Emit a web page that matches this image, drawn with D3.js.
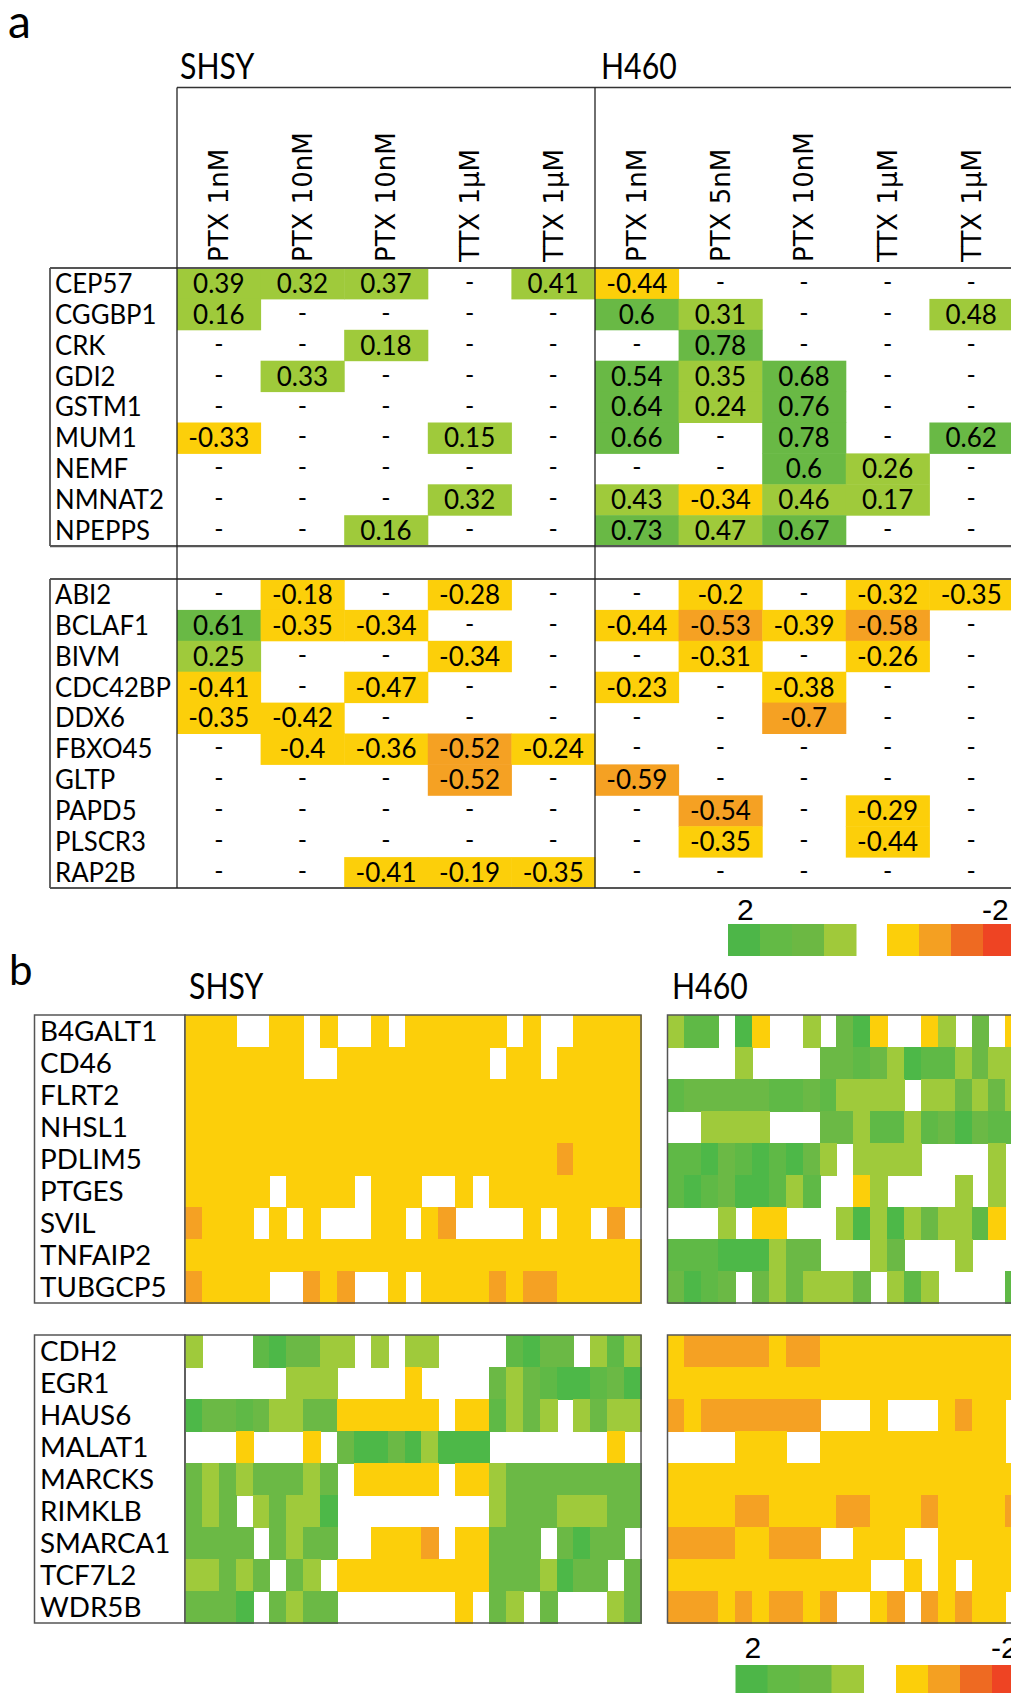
<!DOCTYPE html>
<html>
<head>
<meta charset="utf-8">
<script src="https://cdn.jsdelivr.net/npm/d3@7"></script>
<style>
  body { margin: 0; background: #fff; }
  svg { display: block; }
</style>
</head>
<body>
<svg id="fig" width="1011" height="1693"></svg>
<script>
// ── Panel a: correlation table ──
const shsyCols = ['PTX 1nM', 'PTX 10nM', 'PTX 10nM', 'TTX 1µM', 'TTX 1µM'];
const h460Cols = ['PTX 1nM', 'PTX 5nM', 'PTX 10nM', 'TTX 1µM', 'TTX 1µM'];

const genesUpA = ['CEP57', 'CGGBP1', 'CRK', 'GDI2', 'GSTM1', 'MUM1', 'NEMF', 'NMNAT2', 'NPEPPS'];
const genesDownA = ['ABI2', 'BCLAF1', 'BIVM', 'CDC42BP', 'DDX6', 'FBXO45', 'GLTP', 'PAPD5', 'PLSCR3', 'RAP2B'];

// null = "-" (not significant); first 5 SHSY, last 5 H460
const valsUpA = [
  [0.39, 0.32, 0.37, null, 0.41,   -0.44, null, null, null, null],
  [0.16, null, null, null, null,   0.6, 0.31, null, null, 0.48],
  [null, null, 0.18, null, null,   null, 0.78, null, null, null],
  [null, 0.33, null, null, null,   0.54, 0.35, 0.68, null, null],
  [null, null, null, null, null,   0.64, 0.24, 0.76, null, null],
  [-0.33, null, null, 0.15, null,  0.66, null, 0.78, null, 0.62],
  [null, null, null, null, null,   null, null, 0.6, 0.26, null],
  [null, null, null, 0.32, null,   0.43, -0.34, 0.46, 0.17, null],
  [null, null, 0.16, null, null,   0.73, 0.47, 0.67, null, null],
];
const valsDownA = [
  [null, -0.18, null, -0.28, null,     null, -0.2, null, -0.32, -0.35],
  [0.61, -0.35, -0.34, null, null,     -0.44, -0.53, -0.39, -0.58, null],
  [0.25, null, null, -0.34, null,      null, -0.31, null, -0.26, null],
  [-0.41, null, -0.47, null, null,     -0.23, null, -0.38, null, null],
  [-0.35, -0.42, null, null, null,     null, null, -0.7, null, null],
  [null, -0.4, -0.36, -0.52, -0.24,    null, null, null, null, null],
  [null, null, null, -0.52, null,      -0.59, null, null, null, null],
  [null, null, null, null, null,       null, -0.54, null, -0.29, null],
  [null, null, null, null, null,       null, -0.35, null, -0.44, null],
  [null, null, -0.41, -0.19, -0.35,    null, null, null, null, null],
];

// ── Panel b: heatmaps, one level code per cell ──
// a..d = greens (dark → light), y = yellow, o = orange, . = blank
const genesUpB = ['B4GALT1', 'CD46', 'FLRT2', 'NHSL1', 'PDLIM5', 'PTGES', 'SVIL', 'TNFAIP2', 'TUBGCP5'];
const genesDownB = ['CDH2', 'EGR1', 'HAUS6', 'MALAT1', 'MARCKS', 'RIMKLB', 'SMARCA1', 'TCF7L2', 'WDR5B'];

const shsyUpB = [
  'yyy..yy.y..y.yyyyyy.y..yyyy',
  'yyyyyyy..yyyyyyyyy.yy.yyyyy',
  'yyyyyyyyyyyyyyyyyyyyyyyyyyy',
  'yyyyyyyyyyyyyyyyyyyyyyyyyyy',
  'yyyyyyyyyyyyyyyyyyyyyyoyyyy',
  'yyyyy.yyyy.yyy..y.yyyyyyyyy',
  'oyyy.y.y...yy.yo....y.yy.o.',
  'yyyyyyyyyyyyyyyyyyyyyyyyyyy',
  'oyyyy..oyo..y.yyyyoyooyyyyy',
];
const h460UpB = [
  'dbb.ay..d.cay..yd.c.y',
  '....d....ccbcdabbdcdd',
  'bcccccbbcbdddd.ddcdcd',
  '..dddd...ccdbbdbcacbb',
  'bbacbabacd.dddd....d.',
  'babcaabdb..yd....d.d.',
  '...d.yy...dadadcddby.',
  'bbbaaadcc...dc...d...',
  'cabc.cdcdddc.dbd....b',
];
const shsyDownB = [
  'd...baccdd.d.dd....bacc.dbd',
  '......ddd....y....cdcbaabca',
  'accbcddccyyyyyy.yybdcd.dcdd',
  '...y...y.caacadaaa.......y.',
  'cdcdcccdc.yyyyy.yydcccccccc',
  'cdc.dcdda.........dcccdddcc',
  'cccc.cdcc..yyyo.yyccc.cacc',
  'ddcdc.cd.yyyyyyyyycccdacc.c',
  'ccca.cdcc.......y.cd.c...dc',
];
const h460DownB = [
  'yoooooyooyyyyyyyyyyyy',
  'yyyyyyyyyyyyyyyyyyyyy',
  'oyooooooo...y...yoyy.',
  '....yyy..yyyyyyyyyyy.',
  'yyyyyyyyyyyyyyyyyyyyy',
  'yyyyooyyyyooyyyoyyyyo',
  'ooooyyooo..yyy..yyyyy',
  'yyyyyyyyyyyy..y.y.yyy',
  'oooyoyooyo..yo.oyoyy.',
];

const levelCodes = ['a', 'b', 'c', 'd', 'y', 'o'];
const levelColors = ['#4db848', '#5fb946', '#6bb945', '#9fca3b', '#fccf0a', '#f5a123'];
const legendGreens = ['#4db648', '#63ba45', '#6cb843', '#a0c93a'];
const legendWarm = ['#fccf0a', '#f4a022', '#ee6a22', '#ee4423'];

const svg = d3.select('#fig');
const calibriLike = 'Lato, "Open Sans", sans-serif';
const LINE = '#555';

// Lato is wider than Calibri, squeeze it a bit
function condense(sel, k) {
  sel.each(function () {
    const w = this.getComputedTextLength();
    d3.select(this).attr('textLength', w * k).attr('lengthAdjust', 'spacingAndGlyphs');
  });
}

function hline(x1, x2, y, w, c) {
  svg.append('line').attr('x1', x1).attr('x2', x2).attr('y1', y).attr('y2', y)
    .attr('stroke', c || LINE).attr('stroke-width', w || 1.5);
}
function vline(x, y1, y2, w, c) {
  svg.append('line').attr('x1', x).attr('x2', x).attr('y1', y1).attr('y2', y2)
    .attr('stroke', c || LINE).attr('stroke-width', w || 1.5);
}

// ── panel a ──
const colX = d3.scaleBand().domain(d3.range(10)).range([177, 177 + 83.6 * 10]);
const valColor = d3.scaleThreshold().domain([-0.5, 0, 0.5])
  .range(['#f5a123', '#fccf0a', '#9fca3b', '#69b945']);

svg.append('text').attr('x', 8).attr('y', 38).attr('font-family', calibriLike)
  .attr('font-size', 46).text('a');
svg.append('text').attr('x', 180).attr('y', 79).attr('font-family', calibriLike)
  .attr('font-size', 36).text('SHSY').call(condense, 0.84);
svg.append('text').attr('x', 601).attr('y', 79).attr('font-family', calibriLike)
  .attr('font-size', 36).text('H460').call(condense, 0.84);

const colLabels = shsyCols.concat(h460Cols);
svg.append('g').selectAll('text').data(colLabels).join('text')
  .attr('transform', (d, i) => `translate(${colX(i) + colX.bandwidth() / 2},262) rotate(-90)`)
  .attr('dy', '0.36em')
  .attr('font-family', '"DejaVu Sans", Verdana, sans-serif')
  .attr('font-size', 26)
  .text(d => d);

function drawTable(genes, vals, top) {
  const rowY = d3.scaleBand().domain(genes).range([top, top + 30.9 * genes.length]);
  const g = svg.append('g');
  genes.forEach((gene, r) => {
    vals[r].forEach((v, c) => {
      if (v != null) {
        g.append('rect').attr('x', colX(c)).attr('y', rowY(gene))
          .attr('width', colX.bandwidth() + 0.5).attr('height', rowY.bandwidth() + 0.5)
          .attr('fill', valColor(v));
      }
      g.append('text')
        .attr('x', colX(c) + colX.bandwidth() / 2)
        .attr('y', rowY(gene) + rowY.bandwidth() / 2)
        .attr('dy', v == null ? '0.3em' : '0.36em')
        .attr('text-anchor', 'middle')
        .attr('font-family', calibriLike)
        .attr('font-size', v == null ? 25 : 26)
        .text(v == null ? '-' : String(v));
    });
  });
  g.selectAll('text.gene').data(genes).join('text').attr('class', 'gene')
    .attr('x', 55).attr('y', d => rowY(d) + rowY.bandwidth() / 2).attr('dy', '0.36em')
    .attr('font-family', calibriLike).attr('font-size', 26)
    .text(d => d).call(condense, 0.99);
  const [y0, y1] = rowY.range();
  hline(50, 1011, y0, 2.2);
  hline(50, 1011, y1, 2.2);
  vline(50, y0, y1, 1.8);
}
drawTable(genesUpA, valsUpA, 268);
drawTable(genesDownA, valsDownA, 579);

hline(177, 1011, 87.5, 1.5, '#333');
vline(177, 87.5, 888, 1.3, '#222');
vline(595, 87.5, 888, 1.3, '#222');

function drawLegend(x0, xw, yTop, h, yText) {
  const sw = 32;
  legendGreens.forEach((c, i) => svg.append('rect').attr('x', x0 + i * sw).attr('y', yTop)
    .attr('width', sw + 0.5).attr('height', h).attr('fill', c));
  legendWarm.forEach((c, i) => svg.append('rect').attr('x', xw + i * sw).attr('y', yTop)
    .attr('width', sw + 0.5).attr('height', h).attr('fill', c));
  svg.append('text').attr('x', x0 + 9).attr('y', yText)
    .attr('font-family', '"Liberation Sans", Arial, sans-serif').attr('font-size', 30).text('2');
  svg.append('text').attr('x', xw + 95).attr('y', yText)
    .attr('font-family', '"Liberation Sans", Arial, sans-serif').attr('font-size', 30).text('-2');
}
drawLegend(728, 887, 924, 32, 920);

// ── panel b ──
const levelColor = d3.scaleOrdinal().domain(levelCodes).range(levelColors);

svg.append('text').attr('x', 9).attr('y', 985).attr('font-family', calibriLike)
  .attr('font-size', 42).text('b');
svg.append('text').attr('x', 189).attr('y', 999).attr('font-family', calibriLike)
  .attr('font-size', 36).text('SHSY').call(condense, 0.84);
svg.append('text').attr('x', 672).attr('y', 999).attr('font-family', calibriLike)
  .attr('font-size', 36).text('H460').call(condense, 0.84);

const cellW = 16.89;
function drawHeat(rows, x0, top) {
  const n = rows[0].length;
  const x = d3.scaleBand().domain(d3.range(n)).range([x0, x0 + cellW * n]);
  const y = d3.scaleBand().domain(d3.range(rows.length)).range([top, top + 32 * rows.length]);
  const cells = [];
  rows.forEach((s, r) => s.split('').forEach((code, c) => { if (code !== '.') cells.push({ r, c, code }); }));
  svg.append('g').attr('shape-rendering', 'crispEdges')
    .selectAll('rect').data(cells).join('rect')
    .attr('x', d => x(d.c)).attr('y', d => y(d.r))
    .attr('width', x.bandwidth() + 1).attr('height', y.bandwidth() + 1)
    .attr('fill', d => levelColor(d.code));
  svg.append('rect').attr('x', x0).attr('y', top)
    .attr('width', cellW * n).attr('height', 32 * rows.length)
    .attr('fill', 'none').attr('stroke', LINE).attr('stroke-width', 1.5);
}
function drawGeneBox(genes, top) {
  const y = d3.scaleBand().domain(genes).range([top, top + 32 * genes.length]);
  svg.append('rect').attr('x', 34.5).attr('y', top).attr('width', 185 - 34.5)
    .attr('height', 32 * genes.length).attr('fill', 'none')
    .attr('stroke', LINE).attr('stroke-width', 1.5);
  svg.append('g').selectAll('text').data(genes).join('text')
    .attr('x', 40).attr('y', d => y(d) + y.bandwidth() / 2).attr('dy', '0.36em')
    .attr('font-family', calibriLike).attr('font-size', 27)
    .text(d => d).call(condense, 1.03);
}

drawGeneBox(genesUpB, 1015);
drawHeat(shsyUpB, 185, 1015);
drawHeat(h460UpB, 667.5, 1015);
drawGeneBox(genesDownB, 1335);
drawHeat(shsyDownB, 185, 1335);
drawHeat(h460DownB, 667.5, 1335);

drawLegend(735.5, 896, 1665, 30, 1658);
</script>
</body>
</html>
